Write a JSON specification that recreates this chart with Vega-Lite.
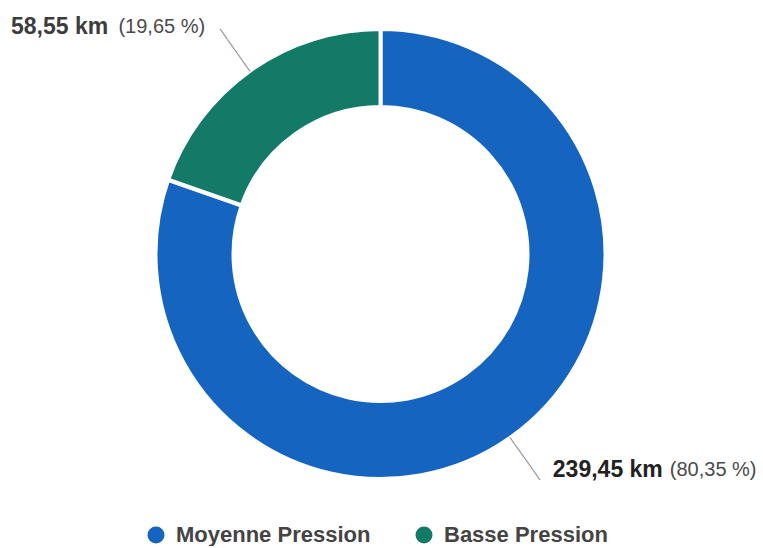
{
  "$schema": "https://vega.github.io/schema/vega-lite/v6.json",
  "width": 761,
  "height": 508,
  "padding": 0,
  "background": "white",
  "config": {
    "view": {"stroke": null},
    "font": "Liberation Sans"
  },
  "data": {
    "values": [
      {"cat": "Moyenne Pression", "km": 239.45, "ordre": 1, "km_label": "239,45 km", "pct_label": "(80,35 %)"},
      {"cat": "Basse Pression", "km": 58.55, "ordre": 2, "km_label": "58,55 km", "pct_label": "(19,65 %)"}
    ]
  },
  "encoding": {
    "theta": {"field": "km", "type": "quantitative", "stack": true},
    "order": {"field": "ordre", "type": "quantitative"},
    "detail": {"field": "cat", "type": "nominal"}
  },
  "layer": [
    {
      "mark": {"type": "arc", "outerRadius": 225, "innerRadius": 147, "stroke": "white", "strokeWidth": 4},
      "encoding": {
        "color": {
          "field": "cat",
          "type": "nominal",
          "scale": {"domain": ["Moyenne Pression", "Basse Pression"], "range": ["#1565c0", "#127a66"]},
          "legend": {
            "title": null,
            "orient": "none",
            "direction": "horizontal",
            "legendX": 145,
            "legendY": 524,
            "padding": 0,
            "symbolType": "circle",
            "symbolSize": 289,
            "symbolStrokeWidth": 0,
            "symbolOpacity": 1,
            "labelFont": "Liberation Sans",
            "labelFontSize": 22,
            "labelFontWeight": "bold",
            "labelColor": "#444444",
            "labelOffset": 9,
            "labelLimit": 400,
            "columnPadding": 42
          }
        }
      }
    },
    {
      "mark": {"type": "text", "radius": 250.5, "angle": 54.6, "align": "center", "baseline": "middle", "fontSize": 13, "color": "#7a7a7a", "font": "Liberation Sans"},
      "encoding": {"text": {"value": "————"}}
    },
    {
      "mark": {"type": "text", "radius": 277, "align": "right", "baseline": "middle", "fontSize": 23, "fontWeight": "bold", "color": "#3c3c3c", "dx": -112, "dy": -1},
      "encoding": {"text": {"condition": {"test": "datum.cat === 'Basse Pression'", "field": "km_label"}, "value": ""}}
    },
    {
      "mark": {"type": "text", "radius": 277, "align": "right", "baseline": "middle", "fontSize": 20, "color": "#4a4a4a", "dx": -15, "dy": -1},
      "encoding": {"text": {"condition": {"test": "datum.cat === 'Basse Pression'", "field": "pct_label"}, "value": ""}}
    },
    {
      "mark": {"type": "text", "radius": 277, "align": "left", "baseline": "middle", "fontSize": 23, "fontWeight": "bold", "color": "#222222", "dx": 12, "dy": -10},
      "encoding": {"text": {"condition": {"test": "datum.cat === 'Moyenne Pression'", "field": "km_label"}, "value": ""}}
    },
    {
      "mark": {"type": "text", "radius": 277, "align": "left", "baseline": "middle", "fontSize": 20, "color": "#4a4a4a", "dx": 129, "dy": -10},
      "encoding": {"text": {"condition": {"test": "datum.cat === 'Moyenne Pression'", "field": "pct_label"}, "value": ""}}
    }
  ]
}
